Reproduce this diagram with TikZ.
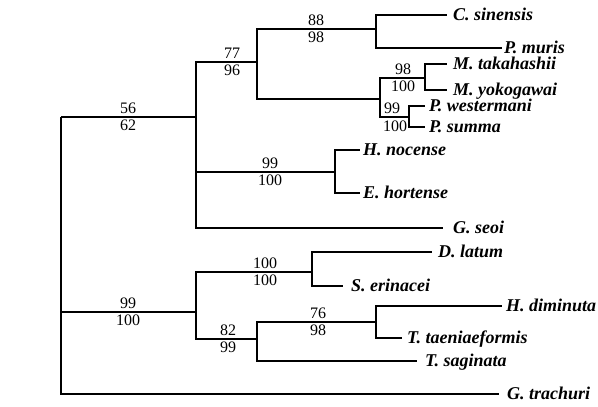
\documentclass[tikz,border=0pt]{standalone}
\usepackage{fontspec}
\setmainfont{Liberation Serif}
\begin{document}
\begin{tikzpicture}[x=1pt,y=-1pt,
  br/.style={line width=1.2pt, line join=miter},
  sp/.style={font=\fontsize{18}{18}\selectfont\bfseries\itshape, anchor=base west, inner sep=0pt},
  bs/.style={font=\fontsize{16}{16}\selectfont, anchor=base, inner sep=0pt}]
\useasboundingbox[fill=white] (0,0) rectangle (598,407);
% internal nodes
\coordinate (R) at (61,117);
\coordinate (N56) at (196,117);
\coordinate (N99b) at (196,312);
\coordinate (N77) at (257,62);
\coordinate (NHE) at (335,172);
\coordinate (N88) at (376,29);
\coordinate (NM) at (380,99);
\coordinate (N98) at (425,78);
\coordinate (N99p) at (409,117);
\coordinate (N100) at (312,272);
\coordinate (N82) at (257,339);
\coordinate (N76) at (376,322);
% tips
\coordinate (tCs) at (447,15);
\coordinate (tPm) at (502,48);
\coordinate (tMt) at (447,64);
\coordinate (tMy) at (447,90);
\coordinate (tPw) at (425,106);
\coordinate (tPs) at (425,127);
\coordinate (tHn) at (360,150);
\coordinate (tEh) at (360,193);
\coordinate (tGs) at (443,228);
\coordinate (tDl) at (432,252);
\coordinate (tSe) at (343,286);
\coordinate (tHd) at (502,306);
\coordinate (tTt) at (402,338);
\coordinate (tTs) at (417,361);
\coordinate (tGt) at (499,394);
% branches
\draw[br] (R) |- (N56);
\draw[br] (R) |- (N99b);
\draw[br] (R) |- (tGt);
\draw[br] (N56) |- (N77);
\draw[br] (N56) |- (NHE);
\draw[br] (N56) |- (tGs);
\draw[br] (N77) |- (N88);
\draw[br] (N77) |- (NM);
\draw[br] (N88) |- (tCs);
\draw[br] (N88) |- (tPm);
\draw[br] (NM) |- (N98);
\draw[br] (NM) |- (N99p);
\draw[br] (N98) |- (tMt);
\draw[br] (N98) |- (tMy);
\draw[br] (N99p) |- (tPw);
\draw[br] (N99p) |- (tPs);
\draw[br] (NHE) |- (tHn);
\draw[br] (NHE) |- (tEh);
\draw[br] (N99b) |- (N100);
\draw[br] (N99b) |- (N82);
\draw[br] (N100) |- (tDl);
\draw[br] (N100) |- (tSe);
\draw[br] (N82) |- (N76);
\draw[br] (N82) |- (tTs);
\draw[br] (N76) |- (tHd);
\draw[br] (N76) |- (tTt);
% species labels
\node[sp] (lCs) at (453,20) {C. sinensis};
\node[sp] (lPm) at (504,53) {P. muris};
\node[sp] (lMt) at (453,69) {M. takahashii};
\node[sp] (lMy) at (453,95) {M. yokogawai};
\node[sp] (lPw) at (429,111) {P. westermani};
\node[sp] (lPs) at (429,132) {P. summa};
\node[sp] (lHn) at (363,155) {H. nocense};
\node[sp] (lEh) at (363,198) {E. hortense};
\node[sp] (lGs) at (453,233) {G. seoi};
\node[sp] (lDl) at (438,257) {D. latum};
\node[sp] (lSe) at (351,291) {S. erinacei};
\node[sp] (lHd) at (506,311) {H. diminuta};
\node[sp] (lTt) at (407,343) {T. taeniaeformis};
\node[sp] (lTs) at (425,366) {T. saginata};
\node[sp] (lGt) at (507,399) {G. trachuri};
% bootstrap values
\node[bs] (b56a) at (128,113) {56};
\node[bs] (b56b) at (128,130) {62};
\node[bs] (b77a) at (232,58) {77};
\node[bs] (b77b) at (232,75) {96};
\node[bs] (b88a) at (316,25) {88};
\node[bs] (b88b) at (316,42) {98};
\node[bs] (b98a) at (403,74) {98};
\node[bs] (b98b) at (403,91) {100};
\node[bs] (b99pa) at (392,113) {99};
\node[bs] (b99pb) at (395,131) {100};
\node[bs] (bHEa) at (270,168) {99};
\node[bs] (bHEb) at (270,185) {100};
\node[bs] (b99ba) at (128,308) {99};
\node[bs] (b99bb) at (128,325) {100};
\node[bs] (b100a) at (265,268) {100};
\node[bs] (b100b) at (265,285) {100};
\node[bs] (b82a) at (228,335) {82};
\node[bs] (b82b) at (228,352) {99};
\node[bs] (b76a) at (318,318) {76};
\node[bs] (b76b) at (318,335) {98};
\end{tikzpicture}
\end{document}
